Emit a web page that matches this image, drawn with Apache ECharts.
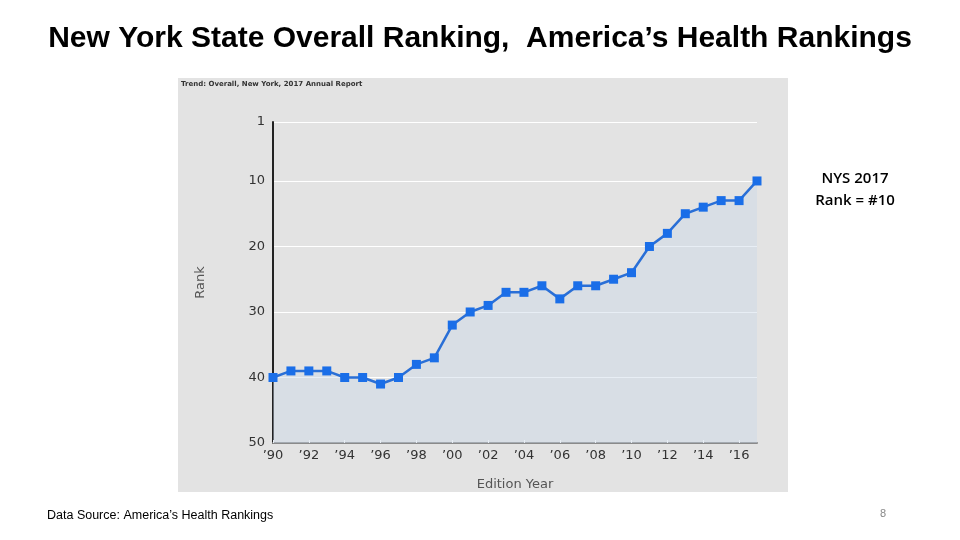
<!DOCTYPE html>
<html>
<head>
<meta charset="utf-8">
<script src="https://cdn.jsdelivr.net/npm/echarts@6/dist/echarts.min.js"></script>
<style>
html,body{margin:0;padding:0;background:#fff;}
#main{width:960px;height:540px;}
</style>
</head>
<body>
<div id="main"></div>
<script>
const years = [1990,1991,1992,1993,1994,1995,1996,1997,1998,1999,2000,2001,2002,2003,2004,2005,2006,2007,2008,2009,2010,2011,2012,2013,2014,2015,2016,2017];
const ranks = [40,39,39,39,40,40,41,40,38,37,32,30,29,27,27,26,28,26,26,25,24,20,18,15,14,13,13,10];
const rankTicks = [1,10,20,30,40,50];
const titleText = 'New York State Overall Ranking,  America\u2019s Health Rankings';
const panelTitle = 'Trend: Overall, New York, 2017 Annual Report';
const noteLines = ['NYS 2017', 'Rank = #10'];
const sourceText = 'Data Source: America\u2019s Health Rankings';
const pageNo = '8';

const chart = echarts.init(document.getElementById('main'), null, {renderer:'canvas'});
chart.setOption({
  backgroundColor:'#ffffff',
  animation:false,
  graphic:[
    {type:'rect', z:-10, shape:{x:178,y:78,width:610,height:414}, style:{fill:'#e3e3e3'}},
    {type:'text', x:480, y:39, style:{text:titleText, font:'bold 30px "Liberation Sans", Arial, sans-serif', fill:'#000', align:'center', verticalAlign:'middle'}},
    {type:'text', left:181, top:81, style:{text:panelTitle, font:'bold 7px "DejaVu Sans", sans-serif', fill:'#333'}},
    {type:'text', x:855, y:168, style:{text:noteLines.join('\n'), font:'600 15px "Open Sans", "Noto Sans", sans-serif', fill:'#000', align:'center', lineHeight:22, verticalAlign:'top'}},
    {type:'text', left:47, top:509, style:{text:sourceText, font:'12.5px "Liberation Sans", sans-serif', fill:'#000'}},
    {type:'text', left:880, top:508, style:{text:pageNo, font:'11px "Liberation Sans", sans-serif', fill:'#888'}}
  ],
  grid:{left:273, right:203, top:122, bottom:97, containLabel:false},
  xAxis:{
    type:'category',
    data:years,
    boundaryGap:false,
    name:'Edition Year',
    nameLocation:'middle',
    nameGap:35,
    nameTextStyle:{fontSize:13, color:'#555', fontFamily:'"DejaVu Sans", sans-serif'},
    axisLine:{lineStyle:{color:'#8a8a8a', width:2}},
    axisTick:{show:true, inside:true, length:3, interval:1, lineStyle:{color:'#ffffff'}},
    axisLabel:{interval:1, margin:6, fontSize:13, color:'#333', fontFamily:'"DejaVu Sans", sans-serif',
      formatter:function(v){return '\u2019' + String(v).slice(2);}},
    splitLine:{show:false}
  },
  yAxis:{
    type:'value',
    inverse:true,
    min:1,
    max:50,
    name:'Rank',
    nameLocation:'middle',
    nameGap:66,
    nameRotate:90,
    nameTextStyle:{fontSize:13, color:'#555', fontFamily:'"DejaVu Sans", sans-serif'},
    axisLine:{show:true, lineStyle:{color:'#222', width:2}},
    axisTick:{show:false, customValues:rankTicks},
    axisLabel:{customValues:rankTicks, margin:8, fontSize:13, color:'#333', fontFamily:'"DejaVu Sans", sans-serif'},
    splitLine:{show:true, lineStyle:{color:'#ffffff', width:1}}
  },
  series:[{
    type:'line',
    data:ranks,
    symbol:'rect',
    symbolSize:9,
    itemStyle:{color:'#1a6ee8'},
    lineStyle:{color:'#2a6fd6', width:2.5},
    areaStyle:{origin:'end', color:'rgba(200,214,232,0.6)'}
  }]
});
</script>
</body>
</html>
